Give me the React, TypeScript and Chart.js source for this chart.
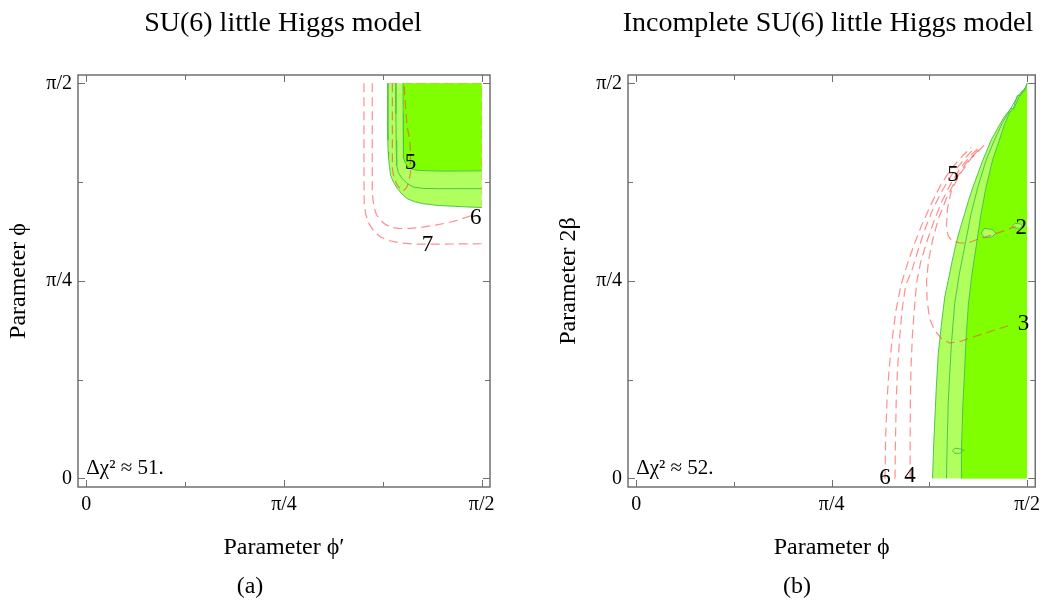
import React, { useEffect, useRef } from "react";
import { Chart, registerables } from "chart.js";

Chart.register(...registerables);

type Pt = [number, number];
const HALF_PI = Math.PI / 2;

// Axis ticks (radians)
const tickValues = [0, Math.PI / 4, Math.PI / 2];
const tickLabels = ["0", "π/4", "π/2"];
const minorTickValues = [Math.PI / 8, (3 * Math.PI) / 8];

// ---------- Panel (a): SU(6) little Higgs model ----------
const aOuter: Pt[] = [
  [1.198, 1.571], [1.198, 1.45], [1.198, 1.344], [1.199, 1.3], [1.201, 1.273], [1.205, 1.235],
  [1.209, 1.205], [1.22, 1.178], [1.236, 1.152], [1.255, 1.13], [1.275, 1.112], [1.305, 1.1],
  [1.34, 1.092], [1.4, 1.085], [1.459, 1.082], [1.52, 1.079], [1.571, 1.077],
];
const aMiddle: Pt[] = [
  [1.229, 1.571], [1.23, 1.45], [1.231, 1.344], [1.233, 1.245], [1.24, 1.215], [1.255, 1.192],
  [1.275, 1.172], [1.3, 1.158], [1.34, 1.153], [1.395, 1.152], [1.48, 1.152], [1.571, 1.152],
];
const aInner: Pt[] = [
  [1.258, 1.571], [1.259, 1.45], [1.259, 1.344], [1.261, 1.273], [1.268, 1.252], [1.28, 1.237],
  [1.296, 1.229], [1.315, 1.225], [1.36, 1.223], [1.408, 1.222], [1.49, 1.222], [1.571, 1.223],
];
const aContour7: Pt[] = [
  [1.103, 1.571], [1.103, 1.4], [1.103, 1.25], [1.104, 1.094], [1.11, 1.05], [1.123, 1.013],
  [1.143, 0.982], [1.169, 0.96], [1.205, 0.945], [1.249, 0.936], [1.3, 0.932], [1.355, 0.931],
  [1.45, 0.932], [1.571, 0.933],
];
const aContour6: Pt[] = [
  [1.136, 1.571], [1.136, 1.4], [1.136, 1.25], [1.136, 1.133], [1.1425, 1.079], [1.153, 1.048],
  [1.169, 1.026], [1.188, 1.01], [1.209, 0.999], [1.24, 0.994], [1.275, 0.993], [1.33, 0.998],
  [1.381, 1.006], [1.43, 1.015], [1.474, 1.026], [1.53, 1.045],
];
const aContour5: Pt[] = [
  [1.216, 1.571], [1.216, 1.45], [1.216, 1.3], [1.216, 1.233], [1.222, 1.195], [1.236, 1.165],
  [1.256, 1.141], [1.272, 1.155], [1.281, 1.178], [1.288, 1.215], [1.288, 1.255], [1.288, 1.304],
  [1.284, 1.35], [1.275, 1.397], [1.268, 1.48], [1.262, 1.571],
];
const aEdge: Pt[] = [[1.2, 1.571], [1.571, 1.571], [1.571, 1.08]];
const aLabelText = ["5", "6", "7"];
const aLabelX = [1.288, 1.547, 1.355];
const aLabelY = [1.255, 1.035, 0.927];
const aNote = "Δχ² ≈ 51.";

// ---------- Panel (b): Incomplete SU(6) little Higgs model ----------
const bOuter: Pt[] = [
  [1.191, 0], [1.195, 0.12], [1.2, 0.231], [1.206, 0.36], [1.214, 0.496], [1.227, 0.615],
  [1.24, 0.721], [1.254, 0.787], [1.27, 0.865], [1.287, 0.94], [1.303, 0.997], [1.32, 1.053],
  [1.336, 1.106], [1.353, 1.158], [1.373, 1.211], [1.393, 1.265], [1.41, 1.305], [1.426, 1.344],
  [1.452, 1.391], [1.479, 1.437], [1.505, 1.47], [1.515, 1.47], [1.532, 1.523], [1.545, 1.523],
  [1.55, 1.54], [1.56, 1.54], [1.565, 1.556], [1.571, 1.571],
];
const bMiddle: Pt[] = [
  [1.247, 0], [1.25, 0.15], [1.254, 0.297], [1.26, 0.42], [1.267, 0.536], [1.28, 0.695],
  [1.298, 0.81], [1.32, 0.92], [1.346, 1.053], [1.373, 1.158], [1.406, 1.265], [1.439, 1.344],
  [1.473, 1.416], [1.501, 1.463], [1.533, 1.519], [1.565, 1.555],
];
const bInner: Pt[] = [
  [1.306, 0], [1.307, 0.105], [1.313, 0.297], [1.32, 0.43], [1.326, 0.562], [1.335, 0.69],
  [1.349, 0.81], [1.366, 0.92], [1.386, 1.053], [1.406, 1.158], [1.432, 1.265], [1.459, 1.344],
  [1.479, 1.404], [1.501, 1.456], [1.518, 1.47], [1.538, 1.516], [1.565, 1.55], [1.571, 1.571],
];
const bIsland1: Pt[] = [[1.386, 0.975], [1.4, 0.994], [1.43, 0.99], [1.446, 0.975], [1.43, 0.96], [1.4, 0.957], [1.386, 0.975]];
const bIsland2: Pt[] = [[1.512, 1.004], [1.522, 1.014], [1.545, 1.012], [1.552, 1.002], [1.54, 0.994], [1.518, 0.996], [1.512, 1.004]];
const bIsland3: Pt[] = [[1.271, 0.11], [1.28, 0.12], [1.3, 0.118], [1.318, 0.112], [1.3, 0.1], [1.28, 0.1], [1.271, 0.11]];
const bContour6: Pt[] = [
  [1.0, 0], [1.002, 0.151], [1.008, 0.31], [1.016, 0.43], [1.028, 0.549], [1.044, 0.668],
  [1.064, 0.768], [1.088, 0.847], [1.116, 0.927], [1.147, 1.006], [1.183, 1.086], [1.223, 1.165],
  [1.267, 1.233], [1.31, 1.281], [1.346, 1.316],
];
const bContour5: Pt[] = [
  [1.04, 0], [1.042, 0.151], [1.045, 0.31], [1.05, 0.43], [1.058, 0.549], [1.068, 0.668],
  [1.083, 0.768], [1.108, 0.827], [1.132, 0.905], [1.16, 0.99], [1.192, 1.07], [1.229, 1.143],
  [1.27, 1.21], [1.312, 1.262], [1.358, 1.312],
];
const bContour4: Pt[] = [
  [1.101, 0], [1.101, 0.151], [1.102, 0.31], [1.104, 0.43], [1.11, 0.569], [1.119, 0.688],
  [1.127, 0.779], [1.143, 0.859], [1.167, 0.939], [1.195, 1.018], [1.227, 1.098], [1.263, 1.169],
  [1.302, 1.233], [1.346, 1.285], [1.386, 1.324],
];
const bContour3: Pt[] = [
  [1.374, 1.304], [1.326, 1.253], [1.287, 1.193], [1.247, 1.114], [1.215, 1.034], [1.191, 0.947],
  [1.175, 0.867], [1.167, 0.787], [1.169, 0.708], [1.179, 0.636], [1.199, 0.589], [1.227, 0.556],
  [1.26, 0.538], [1.306, 0.546], [1.393, 0.575], [1.498, 0.608],
];
const bContour2: Pt[] = [
  [1.398, 1.324], [1.346, 1.273], [1.298, 1.205], [1.267, 1.145], [1.251, 1.074], [1.247, 1.006],
  [1.253, 0.966], [1.267, 0.947], [1.3, 0.936], [1.333, 0.936], [1.379, 0.953], [1.446, 0.973],
  [1.525, 1.002],
];
const bLabelText = ["5", "2", "3", "6", "4"];
const bLabelX = [1.273, 1.547, 1.557, 1.0, 1.1];
const bLabelY = [1.205, 0.994, 0.616, 0.0, 0.008];
const bNote = "Δχ² ≈ 52.";

// ---------- styles ----------
const SERIF = '"Liberation Serif", "DejaVu Serif", serif';
const LIGHT_GREEN = "rgb(176,255,94)";
const BRIGHT_GREEN = "rgb(128,255,0)";
const GREEN_LINE = "rgb(78,196,78)";
const RED_DASH = "rgba(255,50,50,0.55)";
const FRAME = "#707070";

const toXY = (pts: Pt[]) => pts.map(([x, y]) => ({ x, y }));
const fillDs = (pts: Pt[], color: string, order: number) => ({
  data: toXY(pts),
  backgroundColor: color,
  borderColor: "rgba(0,0,0,0)",
  borderWidth: 0.01,
  fill: "shape",
  pointRadius: 0,
  tension: 0,
  order,
});
const lineDs = (pts: Pt[], color: string, width: number, dash: number[], order: number) => ({
  data: toXY(pts),
  borderColor: color,
  backgroundColor: color,
  borderWidth: width,
  borderDash: dash,
  fill: false,
  pointRadius: 0,
  tension: 0,
  order,
});

const framePlugin = {
  id: "frameTicks",
  afterDatasetsDraw(chart: any, _args: any, opts: any) {
    const { ctx, chartArea: a, scales } = chart;
    const x = scales.x;
    const y = scales.y;
    ctx.save();
    // contour labels
    ctx.fillStyle = "#000";
    ctx.font = `23px ${SERIF}`;
    ctx.textAlign = "center";
    ctx.textBaseline = "middle";
    const lt: string[] = opts.labelText || [];
    lt.forEach((t, i) => {
      ctx.fillText(t, x.getPixelForValue(opts.labelX[i]), y.getPixelForValue(opts.labelY[i]));
    });
    // note
    ctx.font = `21px ${SERIF}`;
    ctx.textAlign = "left";
    ctx.textBaseline = "alphabetic";
    ctx.fillText(opts.note, x.getPixelForValue(0), y.getPixelForValue(0) - 4);
    // frame
    ctx.strokeStyle = FRAME;
    ctx.lineWidth = 1.5;
    ctx.strokeRect(a.left, a.top, a.right - a.left, a.bottom - a.top);
    // ticks
    ctx.lineWidth = 1;
    const drawTicks = (vals: number[], len: number) => {
      for (const v of vals) {
        const px = Math.round(x.getPixelForValue(v)) + 0.5;
        const py = Math.round(y.getPixelForValue(v)) + 0.5;
        ctx.beginPath();
        ctx.moveTo(px, a.bottom); ctx.lineTo(px, a.bottom - len);
        ctx.moveTo(px, a.top); ctx.lineTo(px, a.top + len);
        ctx.moveTo(a.left, py); ctx.lineTo(a.left + len, py);
        ctx.moveTo(a.right, py); ctx.lineTo(a.right - len, py);
        ctx.stroke();
      }
    };
    drawTicks(tickValues, 7);
    drawTicks(minorTickValues, 5);
    ctx.restore();
  },
};

function makeConfig(datasets: any[], xTitle: string, yTitle: string, canvasW: number, pluginOpts: any) {
  return {
    type: "line",
    data: { datasets },
    plugins: [framePlugin],
    options: {
      responsive: false,
      animation: false,
      devicePixelRatio: 1,
      layout: { padding: { left: 0, top: 75, right: canvasW - 490, bottom: 0 } },
      plugins: {
        legend: { display: false },
        tooltip: { enabled: false },
        title: { display: false },
        colors: { enabled: false },
        frameTicks: pluginOpts,
      },
      scales: {
        x: {
          type: "linear",
          min: -0.033,
          max: HALF_PI + 0.033,
          afterBuildTicks: (s: any) => { s.ticks = tickValues.map((v) => ({ value: v })); },
          afterFit: (s: any) => { s.height = 121; },
          grid: { display: false, drawTicks: false },
          border: { display: false },
          ticks: {
            autoSkip: false,
            maxRotation: 0,
            padding: 6,
            color: "#000",
            font: { family: SERIF, size: 20 },
            callback: (_v: any, i: number) => tickLabels[i],
          },
          title: {
            display: true,
            text: xTitle,
            color: "#000",
            font: { family: SERIF, size: 24 },
            padding: { top: 0, bottom: 46 },
          },
        },
        y: {
          type: "linear",
          min: -0.034,
          max: HALF_PI + 0.033,
          afterBuildTicks: (s: any) => { s.ticks = tickValues.map((v) => ({ value: v })); },
          afterFit: (s: any) => { s.width = 78; },
          grid: { display: false, drawTicks: false },
          border: { display: false },
          ticks: {
            autoSkip: false,
            padding: 6,
            color: "#000",
            font: { family: SERIF, size: 20 },
            callback: (_v: any, i: number) => tickLabels[i],
          },
          title: {
            display: true,
            text: yTitle,
            color: "#000",
            font: { family: SERIF, size: 24 },
            padding: { top: 4, bottom: 0 },
          },
        },
      },
    },
  };
}

const W1 = 550;
const W2 = 496;
const H = 608;

export default function App() {
  const ref1 = useRef<HTMLCanvasElement>(null);
  const ref2 = useRef<HTMLCanvasElement>(null);

  useEffect(() => {
    const dsA = [
      lineDs(aContour5, RED_DASH, 1.2, [9, 5], 1),
      lineDs(aContour6, RED_DASH, 1.2, [9, 5], 1),
      lineDs(aContour7, RED_DASH, 1.2, [9, 5], 1),
      lineDs(aEdge, "rgba(255,80,80,0.3)", 1, [9, 5], 2),
      lineDs(aInner, GREEN_LINE, 1, [], 3),
      lineDs(aMiddle, GREEN_LINE, 1, [], 3),
      lineDs(aOuter, GREEN_LINE, 1, [], 3),
      fillDs([...aInner, [HALF_PI, HALF_PI]], BRIGHT_GREEN, 8),
      fillDs([...aOuter, [HALF_PI, HALF_PI]], LIGHT_GREEN, 9),
    ];
    const dsB = [
      lineDs(bContour6, RED_DASH, 1.2, [9, 5], 1),
      lineDs(bContour5, RED_DASH, 1.2, [9, 5], 1),
      lineDs(bContour4, RED_DASH, 1.2, [9, 5], 1),
      lineDs(bContour3, RED_DASH, 1.2, [9, 5], 1),
      lineDs(bContour2, RED_DASH, 1.2, [9, 5], 1),
      lineDs(bIsland1, GREEN_LINE, 1, [], 2),
      lineDs(bIsland2, GREEN_LINE, 1, [], 2),
      lineDs(bIsland3, GREEN_LINE, 1, [], 2),
      fillDs(bIsland1, LIGHT_GREEN, 3),
      fillDs(bIsland2, LIGHT_GREEN, 3),
      lineDs(bInner, GREEN_LINE, 1, [], 4),
      lineDs(bMiddle, GREEN_LINE, 1, [], 4),
      lineDs(bOuter, GREEN_LINE, 1, [], 4),
      fillDs([...bInner, [HALF_PI, 0]], BRIGHT_GREEN, 8),
      fillDs([...bOuter, [HALF_PI, 0]], LIGHT_GREEN, 9),
    ];
    const c1 = new Chart(
      ref1.current as HTMLCanvasElement,
      makeConfig(dsA, "Parameter ϕ′", "Parameter ϕ", W1, {
        labelText: aLabelText, labelX: aLabelX, labelY: aLabelY, note: aNote,
      }) as any
    );
    const c2 = new Chart(
      ref2.current as HTMLCanvasElement,
      makeConfig(dsB, "Parameter ϕ", "Parameter 2β", W2, {
        labelText: bLabelText, labelX: bLabelX, labelY: bLabelY, note: bNote,
      }) as any
    );
    return () => {
      c1.destroy();
      c2.destroy();
    };
  }, []);

  const textStyle = (cx: number, top: number, size: number): React.CSSProperties => ({
    position: "absolute",
    left: cx - 300,
    top,
    width: 600,
    textAlign: "center",
    fontFamily: SERIF,
    fontSize: size,
    lineHeight: `${size}px`,
    color: "#000",
    whiteSpace: "nowrap",
  });

  return (
    <div style={{ position: "absolute", left: 0, top: 0, width: 1046, height: H, background: "#fff", overflow: "hidden" }}>
      <canvas ref={ref1} width={W1} height={H} style={{ position: "absolute", left: 0, top: 0, width: W1, height: H }} />
      <canvas ref={ref2} width={W2} height={H} style={{ position: "absolute", left: 550, top: 0, width: W2, height: H }} />
      <div style={textStyle(283, 8, 28)}>SU(6) little Higgs model</div>
      <div style={textStyle(828, 8, 28)}>Incomplete SU(6) little Higgs model</div>
      <div style={textStyle(250, 573, 24)}>(a)</div>
      <div style={textStyle(797, 573, 24)}>(b)</div>
    </div>
  );
}
